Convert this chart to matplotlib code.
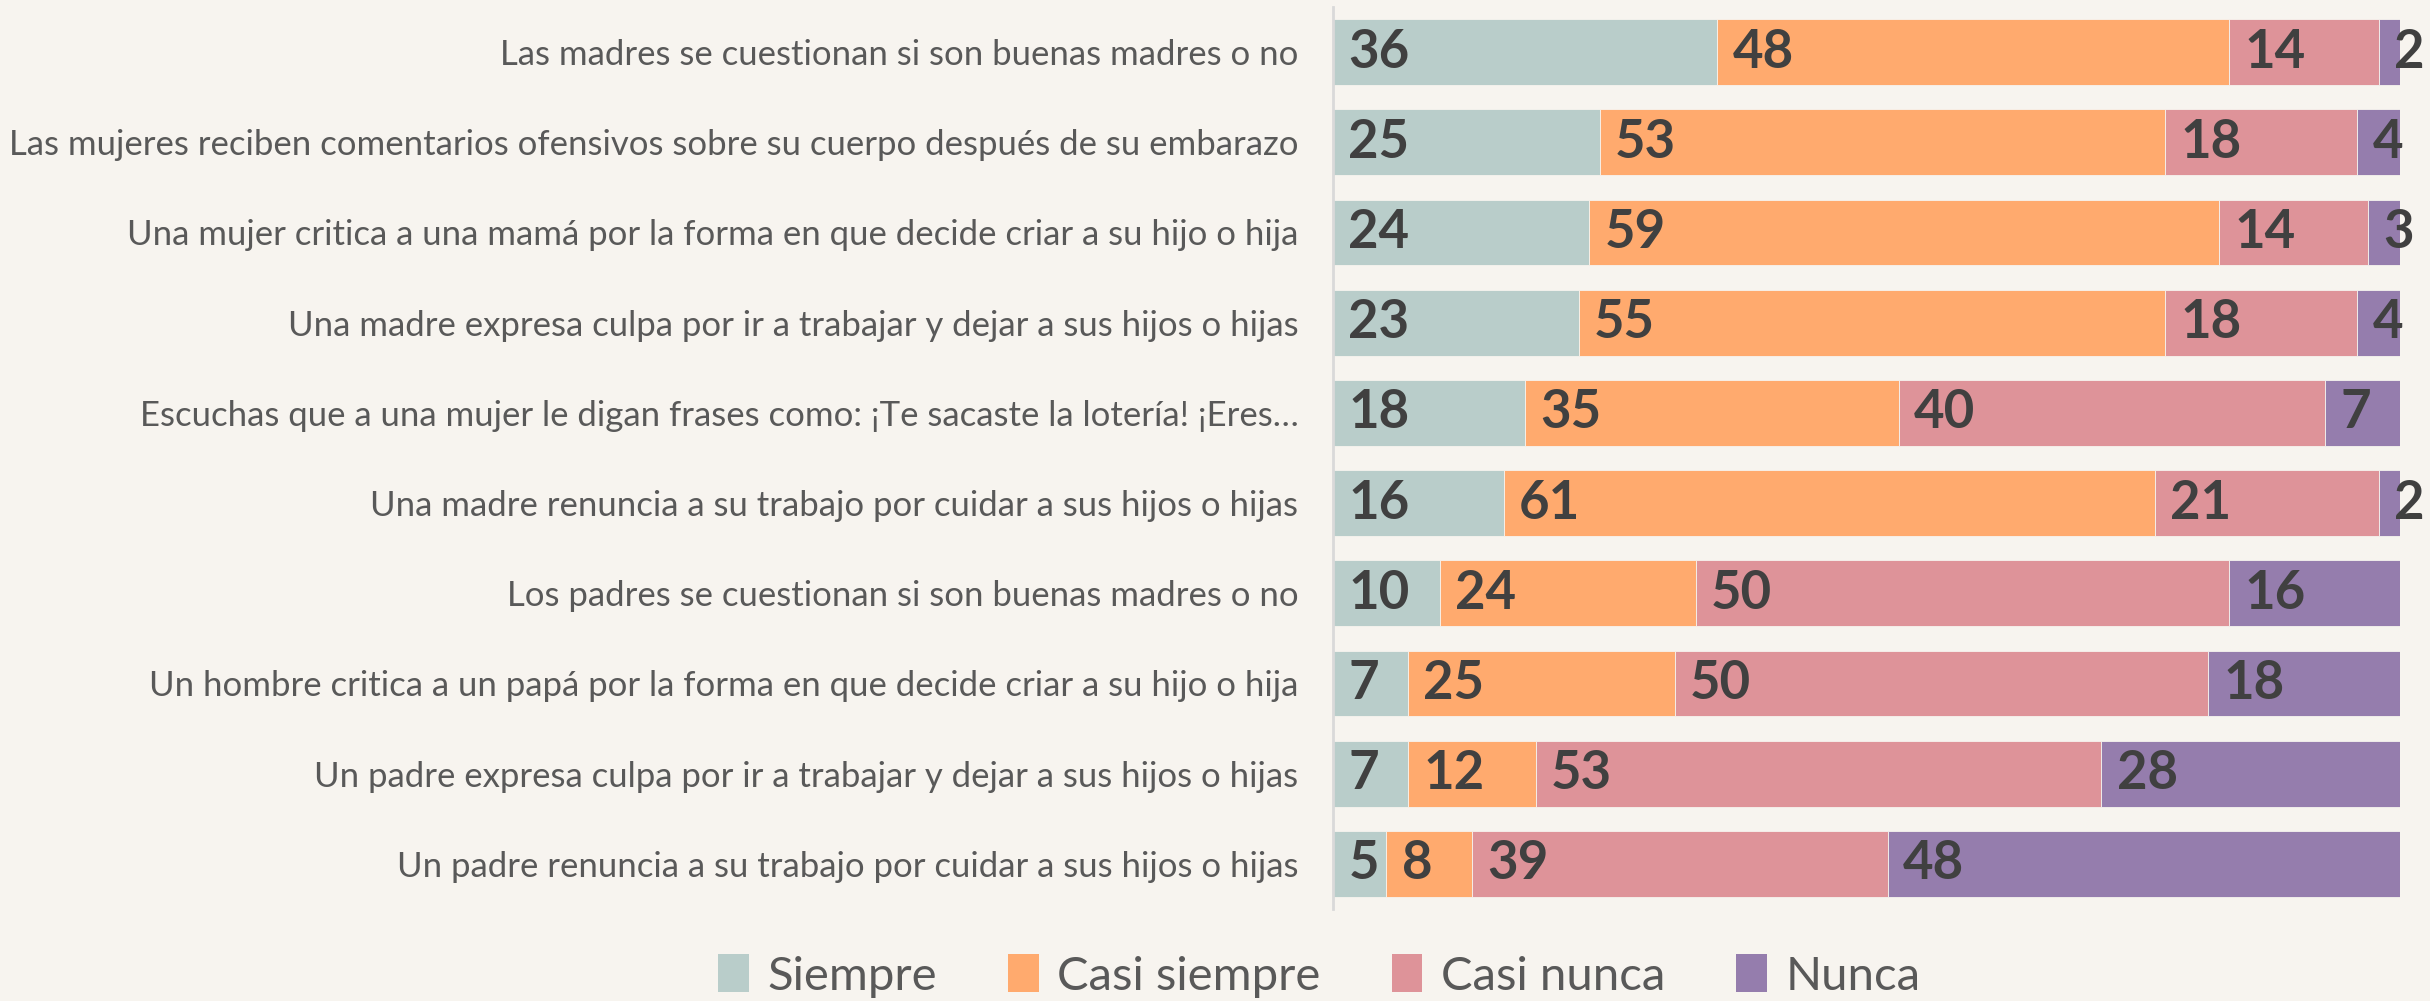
import numpy as np
import matplotlib.pyplot as plt
from matplotlib.patches import Patch

# datos de la encuesta (porcentajes)
categorias = [
    "Las madres se cuestionan si son buenas madres o no",
    "Las mujeres reciben comentarios ofensivos sobre su cuerpo después de su embarazo",
    "Una mujer critica a una mamá por la forma en que decide criar a su hijo o hija",
    "Una madre expresa culpa por ir a trabajar y dejar a sus hijos o hijas",
    "Escuchas que a una mujer le digan frases como: ¡Te sacaste la lotería! ¡Eres…",
    "Una madre renuncia a su trabajo por cuidar a sus hijos o hijas",
    "Los padres se cuestionan si son buenas madres o no",
    "Un hombre critica a un papá por la forma en que decide criar a su hijo o hija",
    "Un padre expresa culpa por ir a trabajar y dejar a sus hijos o hijas",
    "Un padre renuncia a su trabajo por cuidar a sus hijos o hijas",
]
siempre = [36, 25, 24, 23, 18, 16, 10, 7, 7, 5]
casi_siempre = [48, 53, 59, 55, 35, 61, 24, 25, 12, 8]
casi_nunca = [14, 18, 14, 18, 40, 21, 50, 50, 53, 39]
nunca = [2, 4, 3, 4, 7, 2, 16, 18, 28, 48]

series = ["Siempre", "Casi siempre", "Casi nunca", "Nunca"]
colores = ["#B9CDCA", "#FFAA6E", "#DE9399", "#957DAD"]

bg = "#F7F4EF"
plt.rcParams['font.family'] = ['Lato', 'DejaVu Sans']

fig = plt.figure(figsize=(24.3, 10.01), dpi=100, facecolor=bg)
ax = fig.add_axes([0.5486, 0.092, 0.4391, 0.901], facecolor=bg)

y = np.arange(len(categorias))
left = np.zeros(len(categorias))
for nombre, vals, col in zip(series, [siempre, casi_siempre, casi_nunca, nunca], colores):
    vals = np.array(vals, dtype=float)
    ax.barh(y, vals, left=left, height=0.73, color=col, edgecolor=bg, linewidth=0.6)
    for yi, l, v in zip(y, left, vals):
        ax.annotate(str(int(v)), (l, yi), xytext=(11, 0), textcoords='offset points',
                    ha='left', va='center', fontsize=38, fontweight='bold',
                    color='#404040', annotation_clip=False)
    left += vals

ax.set_xlim(0, 100)
ax.set_ylim(len(categorias) - 0.5, -0.5)
ax.set_yticks(y)
ax.set_yticklabels(categorias, fontsize=25, color='#595959')
ax.tick_params(axis='y', length=0, pad=25)
ax.set_xticks([])
for s in ['top', 'right', 'bottom']:
    ax.spines[s].set_visible(False)
ax.spines['left'].set_color('#D9D9D9')
ax.spines['left'].set_linewidth(2)

handles = [Patch(facecolor=c, label=n) for n, c in zip(series, colores)]
fig.legend(handles=handles, loc='center', bbox_to_anchor=(0.543, 0.025), ncol=4,
           frameon=False, fontsize=34, labelcolor='#595959', handlelength=0.65,
           handleheight=0.85, handletextpad=0.4, columnspacing=1.5)

fig.savefig("out.png", dpi=100, facecolor=bg)
